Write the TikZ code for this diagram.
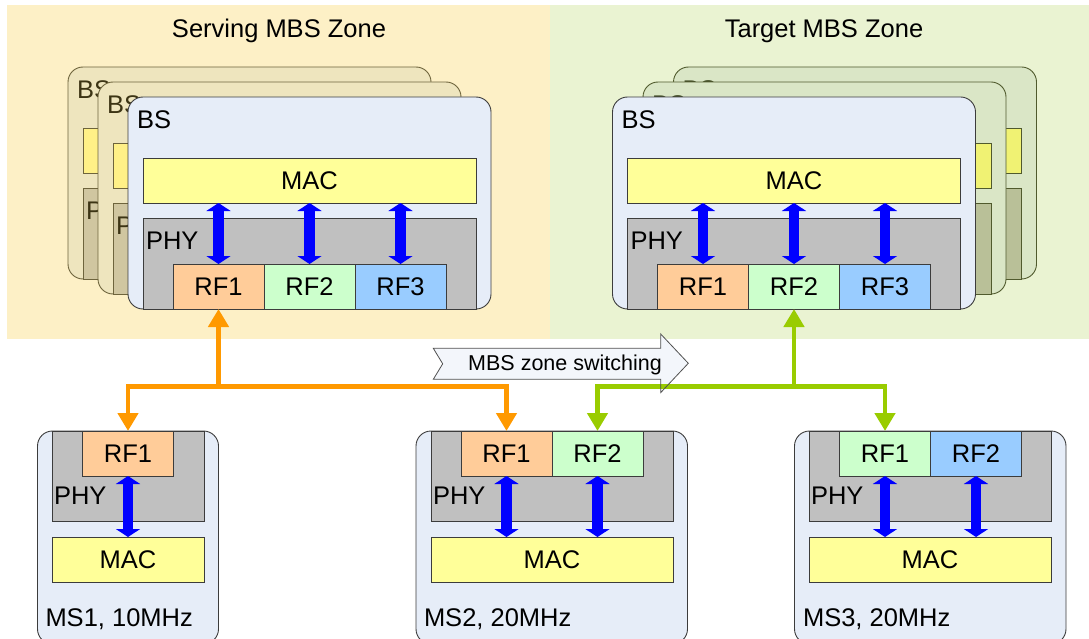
\documentclass[tikz,border=0pt]{standalone}
\usepackage{fontspec}
\setmainfont{Liberation Sans}
\usetikzlibrary{arrows.meta}
\definecolor{servebg}{RGB}{253,240,198}
\definecolor{targetbg}{RGB}{234,243,210}
\definecolor{cardfill}{RGB}{230,237,248}
\definecolor{cardline}{RGB}{60,60,60}
\definecolor{macy}{RGB}{255,255,153}
\definecolor{phyg}{RGB}{192,192,192}
\definecolor{rfo}{RGB}{255,204,153}
\definecolor{rfg}{RGB}{204,255,204}
\definecolor{rfb}{RGB}{153,204,255}
\definecolor{sback}{RGB}{238,229,190}
\definecolor{sbackline}{RGB}{110,100,60}
\definecolor{sbacky}{RGB}{255,240,135}
\definecolor{sbackg}{RGB}{208,198,160}
\definecolor{sbacktext}{RGB}{60,52,20}
\definecolor{tback}{RGB}{218,230,198}
\definecolor{tbackline}{RGB}{80,90,45}
\definecolor{tbacky}{RGB}{240,242,115}
\definecolor{tbackg}{RGB}{185,192,152}
\definecolor{tbacktext}{RGB}{50,60,20}
\definecolor{arrowblue}{RGB}{0,0,255}
\definecolor{conorange}{RGB}{255,153,0}
\definecolor{congreen}{RGB}{153,204,0}
\definecolor{swfill}{RGB}{243,246,251}
\definecolor{swline}{RGB}{80,80,80}
\tikzset{
 lbl/.style={font=\fontsize{25.5}{30}\selectfont, inner sep=0pt, outer sep=0pt},
 box/.style={lbl, draw=cardline, line width=0.9pt, anchor=north west},
 bscard/.style={box, rounded corners=15pt, minimum width=363pt, minimum height=212pt},
 macbox/.style={box, fill=macy, minimum width=333pt, minimum height=45pt},
 phybox/.style={box, fill=phyg, minimum width=333pt, minimum height=91pt},
 rfbox/.style={box, minimum width=91pt, minimum height=45pt},
 mscard/.style={box, rounded corners=15pt, fill=cardfill, minimum height=213pt},
 dbl/.style={draw=arrowblue, line width=10.5pt, {Triangle[width=24pt,length=8pt]}-{Triangle[width=24pt,length=8pt]}},
 busline/.style={line width=4.5pt},
 uptip/.style={-{Triangle[width=20pt,length=18pt]}},
 bothtip/.style={{Triangle[width=20pt,length=18pt]}-{Triangle[width=20pt,length=18pt]}},
 title/.style={lbl, anchor=base},
}
\newcommand\frontcard[2]{%
\begin{scope}[shift={#2}]
 \node[bscard, fill=cardfill] (#1) at (0,0) {};
 \node[lbl, anchor=base west] (#1bs) at (9,31.5) {BS};
 \node[macbox] (#1mac) at (15,61) {MAC};
 \node[phybox] (#1phy) at (15,121) {};
 \node[lbl, anchor=base west] (#1phyl) at (18,152.5) {PHY};
 \node[rfbox, fill=rfo] (#1rfa) at (45,167) {RF1};
 \node[rfbox, fill=rfg] (#1rfb) at (136,167) {RF2};
 \node[rfbox, fill=rfb] (#1rfc) at (227,167) {RF3};
 \draw[dbl] (#1rfa.north) -- (#1rfa.north |- #1mac.south);
 \draw[dbl] (#1rfb.north) -- (#1rfb.north |- #1mac.south);
 \draw[dbl] (#1rfc.north) -- (#1rfc.north |- #1mac.south);
\end{scope}}
% #1 name, #2 top-left, #3 colour set (s/t), #4 visible part of the PHY label
\newcommand\backcard[4]{%
\begin{scope}[shift={#2}]
 \node[bscard, fill=#3back, draw=#3backline] (#1) at (0,0) {};
 \node[lbl, anchor=base west, text=#3backtext] (#1bs) at (9,31.5) {BS};
 \node[macbox, fill=#3backy, draw=#3backline] (#1mac) at (15,61) {};
 \node[phybox, fill=#3backg, draw=#3backline] (#1phy) at (15,121) {};
 \node[lbl, anchor=base west, text=#3backtext] (#1phyl) at (18,152.5) {#4};
\end{scope}}
\begin{document}
\begin{tikzpicture}[x=1pt,y=-1pt]
\useasboundingbox (0,0) rectangle (1089,639);
\clip (0,0) rectangle (1089,639);
% zones
\fill[servebg] (7,5) rectangle (550,339);
\fill[targetbg] (550,5) rectangle (1089,339);
\node[title] (stitle) at (279,37.5) {Serving MBS Zone};
\node[title] (ttitle) at (824,37.5) {Target MBS Zone};
% serving BS stack
\backcard{sb1}{(68,67)}{s}{P}
\backcard{sb2}{(98,82)}{s}{P}
\frontcard{sbs}{(128,97)}
% target BS stack
\backcard{tb1}{(673.5,67)}{t}{}
\backcard{tb2}{(643,82)}{t}{}
\frontcard{tbs}{(612.5,97)}
% MS1
\node[mscard, minimum width=181pt] (ms1) at (37.5,431) {};
\node[box, fill=phyg, minimum width=152pt, minimum height=90pt] (ms1phy) at (52,431) {};
\node[rfbox, fill=rfo] (ms1rfa) at (82.5,431) {RF1};
\node[box, fill=macy, minimum width=152pt, minimum height=45pt] (ms1mac) at (52,537) {MAC};
\node[lbl, anchor=base west] (ms1phyl) at (54,504.5) {PHY};
\node[lbl, anchor=base west] (ms1lab) at (45.5,626) {MS1, 10MHz};
\draw[dbl] (ms1rfa.south) -- (ms1rfa.south |- ms1mac.north);
% MS2
\node[mscard, minimum width=271.5pt] (ms2) at (416,431) {};
\node[box, fill=phyg, minimum width=242pt, minimum height=90pt] (ms2phy) at (431,431) {};
\node[rfbox, fill=rfo] (ms2rfa) at (461,431) {RF1};
\node[rfbox, fill=rfg] (ms2rfb) at (552,431) {RF2};
\node[box, fill=macy, minimum width=242pt, minimum height=45pt] (ms2mac) at (431,537) {MAC};
\node[lbl, anchor=base west] (ms2phyl) at (433,504.5) {PHY};
\node[lbl, anchor=base west] (ms2lab) at (424,626) {MS2, 20MHz};
\draw[dbl] (ms2rfa.south) -- (ms2rfa.south |- ms2mac.north);
\draw[dbl] (ms2rfb.south) -- (ms2rfb.south |- ms2mac.north);
% MS3
\node[mscard, minimum width=271.5pt] (ms3) at (794.5,431) {};
\node[box, fill=phyg, minimum width=242pt, minimum height=90pt] (ms3phy) at (809,431) {};
\node[rfbox, fill=rfg] (ms3rfa) at (839.5,431) {RF1};
\node[rfbox, fill=rfb] (ms3rfb) at (930.5,431) {RF2};
\node[box, fill=macy, minimum width=242pt, minimum height=45pt] (ms3mac) at (809,537) {MAC};
\node[lbl, anchor=base west] (ms3phyl) at (811,504.5) {PHY};
\node[lbl, anchor=base west] (ms3lab) at (803,626) {MS3, 20MHz};
\draw[dbl] (ms3rfa.south) -- (ms3rfa.south |- ms3mac.north);
\draw[dbl] (ms3rfb.south) -- (ms3rfb.south |- ms3mac.north);
% switching arrow (fill)
\fill[swfill] (433.3,348.3) -- (660.7,348.3) -- (660.7,334) -- (688.3,363.3) -- (660.7,392.6) -- (660.7,379.3) -- (433.3,379.3) -- (442.7,363.8) -- cycle;
% connectors
\coordinate (bus) at (0,386.5);
\draw[busline, draw=conorange, uptip] (sbsrfa.south |- bus) -- (sbsrfa.south);
\draw[busline, draw=conorange, bothtip] (ms1rfa.north) -- (ms1rfa.north |- bus) -- (ms2rfa.north |- bus) -- (ms2rfa.north);
\draw[busline, draw=congreen, uptip] (tbsrfb.south |- bus) -- (tbsrfb.south);
\draw[busline, draw=congreen, bothtip] (ms2rfb.north) -- (ms2rfb.north |- bus) -- (ms3rfa.north |- bus) -- (ms3rfa.north);
% switching arrow (outline and text)
\draw[swline, line width=0.8pt, line join=miter] (433.3,348.3) -- (660.7,348.3) -- (660.7,334) -- (688.3,363.3) -- (660.7,392.6) -- (660.7,379.3) -- (433.3,379.3) -- (442.7,363.8) -- cycle;
\node[inner sep=0pt, anchor=base, font=\fontsize{21.5}{26}\selectfont] (sw) at (565,370) {MBS zone switching};
\end{tikzpicture}
\end{document}
